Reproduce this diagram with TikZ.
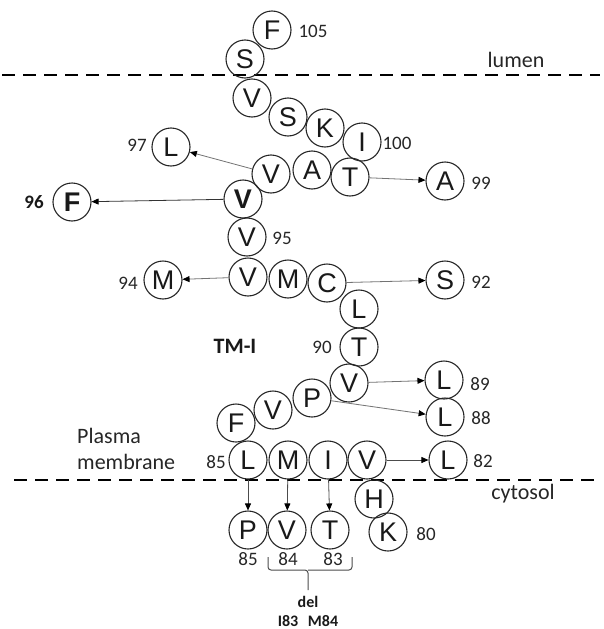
\documentclass[tikz,border=0pt]{standalone}
\usepackage{fontspec}
\setmainfont{Carlito}
\newfontfamily\aafont{Liberation Sans}
\usetikzlibrary{arrows.meta}
\begin{document}
\begin{tikzpicture}[x=1pt,y=-1pt,
  aa/.style={circle,draw=black!85,line width=1.1pt,minimum size=38pt,inner sep=0pt,
    font=\aafont\fontsize{27}{27}\selectfont,text=black!90},
  num/.style={font=\fontsize{19}{19}\selectfont,text=black!85,inner sep=0pt},
  lbl/.style={font=\fontsize{22}{22}\selectfont,text=black!85,inner sep=0pt},
  bl/.style={font=\bfseries\fontsize{19}{19}\selectfont,text=black!90,inner sep=0pt},
  conn/.style={draw=black!55,line width=0.8pt,-{Triangle[length=7pt,width=6pt,color=black]}},
  mem/.style={draw=black,line width=2.8pt,dash pattern=on 13pt off 8pt}]
\useasboundingbox (0,0) rectangle (603,629);
% membranes
\coordinate (m1a) at (2,75);
\coordinate (m1b) at (600,75);
\coordinate (m2a) at (14,480);
\coordinate (m2b) at (600,480);
\draw[mem] (m1a) -- (m1b);
\draw[mem] (m2a) -- (m2b);
\node[lbl] (lumen) at (516,60) {lumen};
\node[lbl] (cyto) at (523,494) {cytosol};
\node[lbl,align=left,anchor=west] (pm) at (77,449) {Plasma\\[4pt]membrane};
\node[bl,font=\bfseries\fontsize{22}{22}\selectfont] (tm) at (235,346) {TM-I};
% chain
\node[aa] (F105) at (272,30) {F};
\node[aa] (S104) at (245,59) {S};
\node[aa] (V103) at (252,98) {V};
\node[aa] (S102) at (288,117) {S};
\node[aa] (K101) at (325,128) {K};
\node[aa] (I100) at (362,142) {I};
\node[aa] (T99) at (350,177) {T};
\node[aa] (A98) at (312,170) {A};
\node[aa] (V97) at (271,174) {V};
\node[aa] (V96) at (243,199) {\bfseries V};
\node[aa] (V95) at (247,237) {V};
\node[aa] (V94) at (248,277) {V};
\node[aa] (M93) at (288,279) {M};
\node[aa] (C92) at (327,283) {C};
\node[aa] (L91) at (359,309) {L};
\node[aa] (T90) at (359,347) {T};
\node[aa] (V89) at (349,383) {V};
\node[aa] (P88) at (312,398) {P};
\node[aa] (V87) at (273,410) {V};
\node[aa] (F86) at (236,423) {F};
\node[aa] (L85) at (248,460) {L};
\node[aa] (M84) at (288,460) {M};
\node[aa] (I83) at (328,460) {I};
\node[aa] (V82) at (367,460) {V};
\node[aa] (H81) at (374,499) {H};
\node[aa] (K80) at (388,532) {K};
% variants
\node[aa] (L97m) at (171,147) {L};
\node[aa] (F96m) at (72,202) {\bfseries F};
\node[aa] (A99m) at (445,181) {A};
\node[aa] (M94m) at (163,280) {M};
\node[aa] (S92m) at (445,280) {S};
\node[aa] (L89m) at (444,380) {L};
\node[aa] (L88m) at (445,417) {L};
\node[aa] (L82m) at (448,460) {L};
\node[aa] (P85m) at (248,530) {P};
\node[aa] (V84m) at (287,530) {V};
\node[aa] (T83m) at (330,530) {T};
% numbers
\node[num] (n105) at (313,31) {105};
\node[num] (n100) at (397,143) {100};
\node[num] (n97) at (137,145) {97};
\node[bl] (n96) at (34,202) {96};
\node[num] (n99) at (481,183) {99};
\node[num] (n95) at (282,238) {95};
\node[num] (n94) at (128,283) {94};
\node[num] (n92) at (481,282) {92};
\node[num] (n90) at (322,347) {90};
\node[num] (n89) at (480,384) {89};
\node[num] (n88) at (481,418) {88};
\node[num] (n82) at (483,461) {82};
\node[num] (n85) at (216,462) {85};
\node[num] (n80) at (426,534) {80};
\node[num] (n85b) at (248,559) {85};
\node[num] (n84) at (288,559) {84};
\node[num] (n83) at (333,559) {83};
% arrows
\draw[conn] (V97) -- (L97m);
\draw[conn,draw=black!80] (V96) -- (F96m);
\draw[conn] (T99) -- (A99m);
\draw[conn] (V94) -- (M94m);
\draw[conn] (C92) -- (S92m);
\draw[conn] (V89) -- (L89m);
\draw[conn] (P88) -- (L88m);
\draw[conn,draw=black!70] (V82) -- (L82m);
\draw[conn,draw=black!70] (L85) -- (P85m);
\draw[conn,draw=black!70] (M84) -- (V84m);
\draw[conn,draw=black!70] (I83) -- (T83m);
% brace
\coordinate (bl) at (268,557);
\coordinate (br) at (352,557);
\coordinate (bm) at (308,590);
\draw[black!70,line width=1pt,rounded corners=3pt] (bl) -- (268,570) -- (308,570) -- (bm);
\draw[black!70,line width=1pt,rounded corners=3pt] (br) -- (352,570) -- (308,570);
\node[bl,font=\bfseries\fontsize{16}{16}\selectfont] (del) at (308,602) {del};
\node[bl,font=\bfseries\fontsize{16}{16}\selectfont] (delx) at (308,621) {I83\hspace{0.6em}M84};
\end{tikzpicture}
\end{document}
